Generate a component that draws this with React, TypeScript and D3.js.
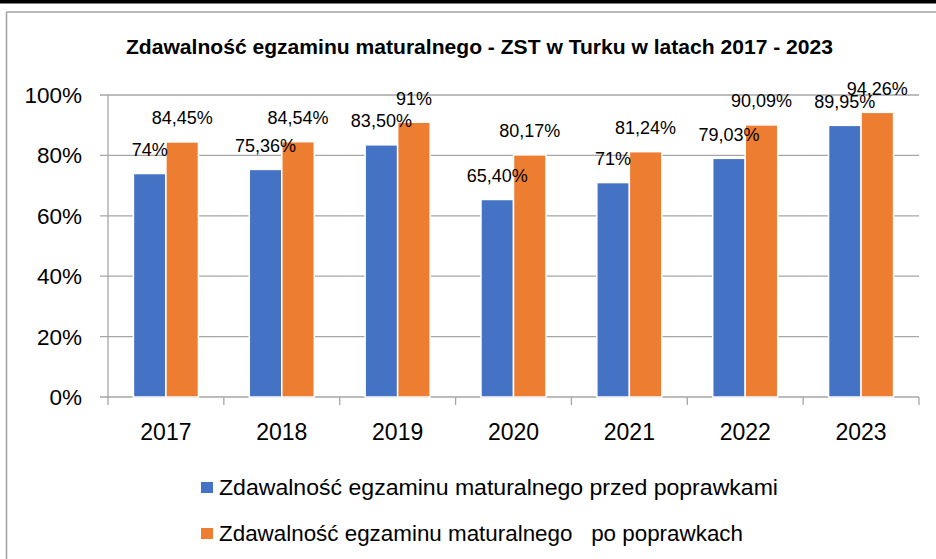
import React from "react";
import * as d3 from "d3";

const title = "Zdawalność egzaminu maturalnego - ZST w Turku w latach 2017 - 2023";
const years = ["2017", "2018", "2019", "2020", "2021", "2022", "2023"];
const beforeValues = [74, 75.36, 83.5, 65.4, 71, 79.03, 89.95];
const afterValues = [84.45, 84.54, 91, 80.17, 81.24, 90.09, 94.26];
const seriesNames = [
  "Zdawalność egzaminu maturalnego przed poprawkami",
  "Zdawalność egzaminu maturalnego   po poprawkach",
];
const yTicks = [0, 20, 40, 60, 80, 100];
const colors = ["#4472C4", "#ED7D31"];

const fmt = (v: number) =>
  Number.isInteger(v) ? `${v}%` : `${v.toFixed(2).replace(".", ",")}%`;

export default function App() {
  const W = 936;
  const H = 559;
  const left = 108;
  const right = 919;
  const top = 95;
  const bottom = 397;
  const x = d3.scaleBand<string>().domain(years).range([left, right]).padding(0);
  const y = d3.scaleLinear().domain([0, 100]).range([bottom, top]);
  const groupW = x.bandwidth() * 0.561;
  const barW = groupW / 2;
  const series = [beforeValues, afterValues];
  const font = "'Liberation Sans', Arial, sans-serif";
  const gridColor = "#A6A6A6";
  const legendLens = [559, 524];

  return (
    <svg
      width={W}
      height={H}
      style={{ position: "absolute", left: 0, top: 0, background: "#fff" }}
      fontFamily={font}
    >
      <rect x={0} y={0} width={W} height={3.5} fill="#000" />
      <line x1={6.5} y1={12} x2={W} y2={12} stroke="#A0A0A0" strokeWidth={1.5} />
      <line x1={6.5} y1={12} x2={6.5} y2={H} stroke="#A0A0A0" strokeWidth={1.5} />

      <text
        x={126}
        y={54}
        fontSize={19.5}
        fontWeight="bold"
        fill="#000"
        textLength={707}
        lengthAdjust="spacingAndGlyphs"
      >
        {title}
      </text>

      {yTicks.map((t) => (
        <g key={t}>
          <line x1={left - 8} x2={right} y1={y(t)} y2={y(t)} stroke={gridColor} strokeWidth={1.3} />
          <text x={82} y={y(t) + 8} textAnchor="end" fontSize={22.5} fill="#000">
            {t}%
          </text>
        </g>
      ))}
      <line x1={left} x2={left} y1={top} y2={bottom + 8} stroke={gridColor} strokeWidth={1.3} />
      {years.map((yr) => (
        <line
          key={"t" + yr}
          x1={(x(yr) as number) + x.bandwidth()}
          x2={(x(yr) as number) + x.bandwidth()}
          y1={bottom}
          y2={bottom + 8}
          stroke={gridColor}
          strokeWidth={1.3}
        />
      ))}

      {years.map((yr, i) => {
        const cx = (x(yr) as number) + x.bandwidth() / 2;
        const g0 = cx - groupW / 2;
        return (
          <g key={yr}>
            {series.map((vals, s) => (
              <rect
                key={s}
                x={g0 + s * barW}
                y={y(vals[i])}
                width={barW}
                height={bottom - y(vals[i])}
                fill={colors[s]}
                stroke="#fff"
                strokeWidth={1.5}
              />
            ))}
            <text x={cx} y={440} textAnchor="middle" fontSize={23} fill="#000">
              {yr}
            </text>
          </g>
        );
      })}

      {years.map((yr, i) => {
        const cx = (x(yr) as number) + x.bandwidth() / 2;
        const g0 = cx - groupW / 2;
        return (
          <g key={"l" + yr}>
            {series.map((vals, s) => (
              <text
                key={s}
                x={g0 + s * barW + barW / 2}
                y={y(vals[i]) - 17.5}
                textAnchor="middle"
                fontSize={18}
                fill="#000"
              >
                {fmt(vals[i])}
              </text>
            ))}
          </g>
        );
      })}

      {seriesNames.map((n, i) => (
        <g key={n}>
          <rect x={201} y={482 + i * 46} width={12} height={11} fill={colors[i]} />
          <text
            x={219}
            y={495 + i * 46}
            fontSize={21.5}
            fill="#000"
            style={{ whiteSpace: "pre" }}
            textLength={legendLens[i]}
            lengthAdjust="spacingAndGlyphs"
          >
            {n}
          </text>
        </g>
      ))}
    </svg>
  );
}
